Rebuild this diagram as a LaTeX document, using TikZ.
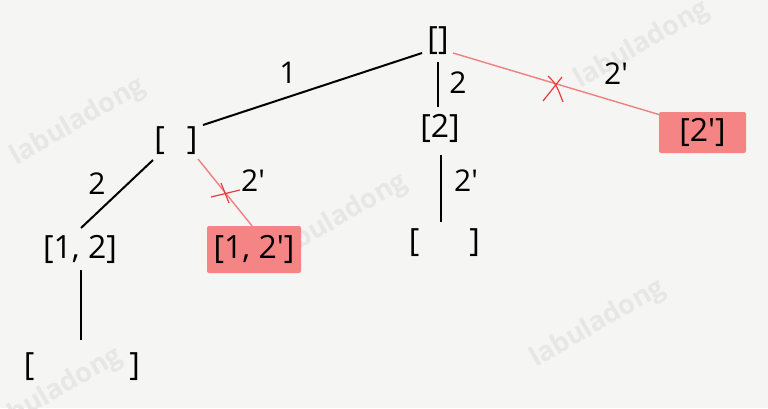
\documentclass[tikz,border=0pt]{standalone}
\usepackage{fontspec}
\setmainfont{Open Sans}
\usetikzlibrary{calc}
\definecolor{bgc}{RGB}{245,245,243}
\definecolor{hitfill}{RGB}{245,132,132}
\definecolor{cutline}{RGB}{238,128,128}
\definecolor{cutx}{RGB}{232,60,60}
\definecolor{wm}{RGB}{231,231,229}
\newcommand{\apos}{\textquotesingle}
\tikzset{
  lab/.style={inner sep=0pt, font=\fontsize{32}{32}\selectfont, text=black},
  hit/.style={lab, fill=hitfill, rounded corners=2pt},
  elab/.style={inner sep=0pt, font=\fontsize{30}{30}\selectfont, text=black},
  edge/.style={draw=black, line width=2pt},
  cut/.style={draw=cutline, line width=1.4pt},
  xmark/.style={draw=cutx, line width=1.2pt},
  wmark/.style={inner sep=0pt, font=\bfseries\fontsize{27}{27}\selectfont, text=wm, rotate=30}
}
\begin{document}
\begin{tikzpicture}[x=1pt,y=-1pt]
\fill[bgc] (0,0) rectangle (768,408);
\useasboundingbox (0,0) rectangle (768,408);
% watermarks
\node[wmark] (w1) at (78,122) {labuladong};
\node[wmark] (w2) at (642,45) {labuladong};
\node[wmark] (w3) at (340,218) {labuladong};
\node[wmark] (w4) at (598,324) {labuladong};
\node[wmark] (w5) at (55,392) {labuladong};
% nodes
\node[lab] (root) at (438,41) {[]};
\node[lab] (n1) at (176,141) {[\hspace{22pt}]};
\node[lab] (n2) at (440,128) {[2]};
\node[hit, minimum width=87pt, minimum height=41pt] (n3) at (702.5,132.5) {[2\apos]};
\node[lab] (n12) at (80,249) {[1, 2]};
\node[hit, minimum width=94pt, minimum height=47pt] (n12p) at (254,249.5) {[1, 2\apos]};
\node[lab] (n2e) at (444.5,243) {[\hspace{50pt}]};
\node[lab] (n12e) at (82,367) {[\hspace{95pt}]};
% edges
\draw[edge] ($(root)+(-16,12)$) -- ($(n1)+(27,-16)$);
\node[elab] (l1) at (288,73) {1};
\draw[edge] ($(root)+(0,21)$) -- ($(n2)+(-2,-21)$);
\node[elab] (l2) at (458,83) {2};
\draw[cut] ($(root)+(15,12)$) -- ($(n3.north west)+(1,3)$);
\draw[xmark] (543,101) -- (562,77);
\draw[xmark] (548,76) .. controls (556,84) .. (563,102);
\node[elab] (l3) at (616,74) {2\apos};
\draw[edge] ($(n2)+(1,27)$) -- ($(n2e)+(-3.5,-21)$);
\node[elab] (l4) at (466,181) {2\apos};
\draw[edge] ($(n1)+(-23,19)$) -- ($(n12)+(1,-21)$);
\node[elab] (l5) at (97,184) {2};
\draw[cut] ($(n1)+(22,18)$) -- ($(n12p.north)+(-2,0)$);
\draw[xmark] (211,197) -- (240,190);
\draw[xmark] (221,183) -- (229,203);
\node[elab] (l6) at (253,181) {2\apos};
\draw[edge] ($(n12)+(1,21)$) -- ($(n12e)+(-1,-27)$);
\end{tikzpicture}
\end{document}
